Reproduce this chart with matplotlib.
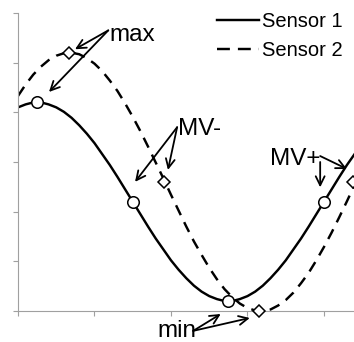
import matplotlib
matplotlib.use("Agg")
import matplotlib.pyplot as plt
from matplotlib.lines import Line2D

plt.rcParams['font.family'] = ['Liberation Sans', 'DejaVu Sans']

# time axis (one unit per tick) and the two sensor traces
t = [0.0, 0.1, 0.2, 0.3, 0.4, 0.5, 0.6, 0.7, 0.8, 0.9,
     1.0, 1.1, 1.2, 1.3, 1.4, 1.5, 1.6, 1.7, 1.8, 1.9,
     2.0, 2.1, 2.2, 2.3, 2.4, 2.5, 2.6, 2.7, 2.8, 2.9,
     3.0, 3.1, 3.2, 3.3, 3.4, 3.5, 3.6, 3.7, 3.8, 3.9,
     4.0, 4.1, 4.2, 4.3, 4.4]
sensor1 = [4.10, 4.16, 4.20, 4.20, 4.16, 4.10, 4.01, 3.89, 3.74, 3.57,
           3.38, 3.16, 2.94, 2.70, 2.45, 2.20, 1.95, 1.70, 1.46, 1.24,
           1.02, 0.83, 0.66, 0.51, 0.39, 0.30, 0.24, 0.20, 0.20, 0.24,
           0.30, 0.39, 0.51, 0.66, 0.83, 1.02, 1.24, 1.46, 1.70, 1.95,
           2.20, 2.45, 2.70, 2.94, 3.16]
sensor2 = [4.33, 4.56, 4.76, 4.92, 5.05, 5.14, 5.19, 5.20, 5.17, 5.09,
           4.98, 4.83, 4.64, 4.43, 4.18, 3.91, 3.62, 3.31, 2.99, 2.67,
           2.34, 2.02, 1.70, 1.40, 1.13, 0.87, 0.64, 0.44, 0.28, 0.15,
           0.06, 0.01, 0.00, 0.03, 0.11, 0.22, 0.37, 0.56, 0.77, 1.02,
           1.29, 1.58, 1.89, 2.21, 2.54]

# max, MV-, min, MV+ points of each trace
s1_pts_t = [0.25, 1.50, 2.75, 4.00]
s1_pts_v = [4.20, 2.20, 0.20, 2.20]
s2_pts_t = [0.67, 1.91, 3.15, 4.38]
s2_pts_v = [5.20, 2.60, 0.00, 2.60]

fig = plt.figure(figsize=(3.54, 3.42), dpi=100)
ax = fig.add_axes([18 / 354, 31 / 342, 336 / 354, 298 / 342])

lw = 1.75
ax.plot(t, sensor1, color='black', lw=lw)
ax.plot(t, sensor2, color='black', lw=lw, dashes=(4.5, 3.2))
ax.plot(s1_pts_t, s1_pts_v, ls='none', marker='o', ms=8.3, mfc='white',
        mec='black', mew=1.1, clip_on=False, zorder=4)
ax.plot(s2_pts_t, s2_pts_v, ls='none', marker='D', ms=6, mfc='white',
        mec='black', mew=1.1, clip_on=False, zorder=4)

ax.set_xlim(0, 336 / 76.5)
ax.set_ylim(0, 6)
ax.set_xticks([0, 1, 2, 3, 4])
ax.set_yticks([0, 1, 2, 3, 4, 5, 6])
ax.tick_params(labelleft=False, labelbottom=False, color='#a0a0a0',
               length=3.5, width=0.8)
for side in ['top', 'right']:
    ax.spines[side].set_visible(False)
for side in ['left', 'bottom']:
    ax.spines[side].set_color('#a0a0a0')
    ax.spines[side].set_linewidth(0.8)

# labels and their arrows
fs = 17.5
ax.text(1.19, 5.43, 'max', fontsize=fs, va='baseline')
ax.text(2.09, 3.54, 'MV-', fontsize=fs, va='baseline')
ax.text(3.29, 2.94, 'MV+', fontsize=fs, va='baseline')
ax.text(1.82, -0.52, 'min', fontsize=fs, va='baseline')

arrows = [((1.18, 5.65), (0.745, 5.27)),
          ((1.18, 5.65), (0.405, 4.41)),
          ((2.08, 3.70), (1.53, 2.60)),
          ((2.08, 3.70), (1.96, 2.84)),
          ((3.95, 3.00), (3.95, 2.49)),
          ((3.95, 3.12), (4.30, 2.86)),
          ((2.29, -0.40), (2.65, -0.06)),
          ((2.29, -0.40), (3.03, -0.14))]
for start, tip in arrows:
    ax.annotate('', xy=tip, xytext=start, annotation_clip=False,
                arrowprops=dict(arrowstyle='->,head_length=0.65,head_width=0.32',
                                color='black', lw=1.3, shrinkA=0, shrinkB=0))

# legend keys: dash pattern sized so two dashes fill the key
handles = [Line2D([], [], color='black', lw=lw),
           Line2D([], [], color='black', lw=lw, dashes=(5.3, 3.3))]
ax.legend(handles, ['Sensor 1', 'Sensor 2'], loc='upper left',
          bbox_to_anchor=(217 / 354, 1 - 12 / 342),
          bbox_transform=fig.transFigure, frameon=False, fontsize=14.5,
          handlelength=2.1, handletextpad=0.15, borderpad=0,
          borderaxespad=0, labelspacing=0.5)

fig.savefig('out.png', dpi=100)
